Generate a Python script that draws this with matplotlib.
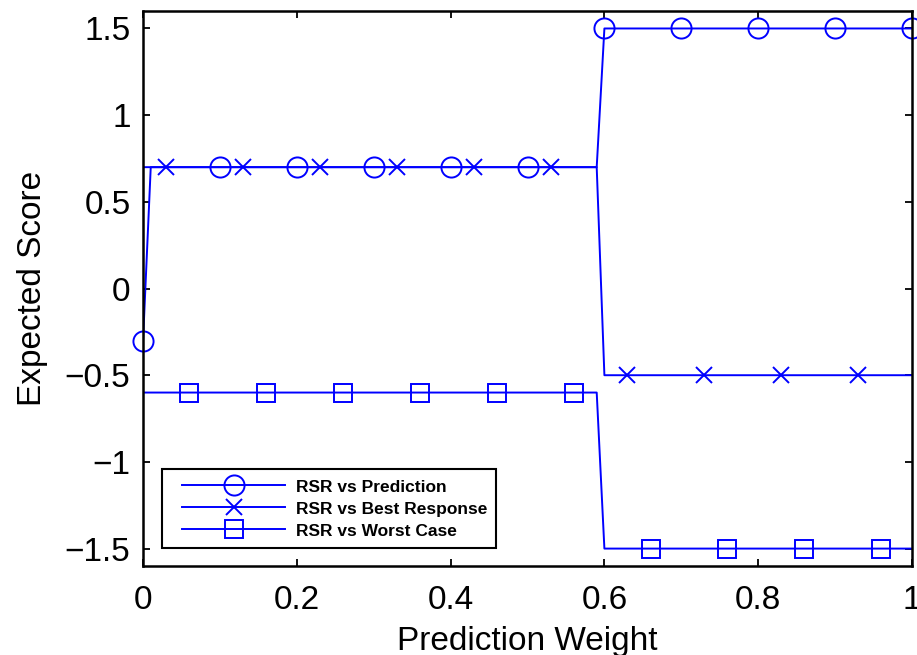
import matplotlib
matplotlib.use('Agg')
import matplotlib.pyplot as plt
from matplotlib.lines import Line2D
from matplotlib.legend_handler import HandlerLine2D

# Data
# line breakpoints (the change happens between 0.59 and 0.60)
pred_x = [0.0, 0.01, 0.59, 0.60, 1.0]
pred_y = [-0.3, 0.7, 0.7, 1.5, 1.5]
best_x = [0.0, 0.59, 0.60, 1.0]
best_y = [0.7, 0.7, -0.5, -0.5]
worst_x = [0.0, 0.59, 0.60, 1.0]
worst_y = [-0.6, -0.6, -1.5, -1.5]

# marker positions
pred_mx = [0.0, 0.1, 0.2, 0.3, 0.4, 0.5, 0.6, 0.7, 0.8, 0.9, 1.0]
pred_my = [-0.3, 0.7, 0.7, 0.7, 0.7, 0.7, 1.5, 1.5, 1.5, 1.5, 1.5]
best_mx = [0.03, 0.13, 0.23, 0.33, 0.43, 0.53, 0.63, 0.73, 0.83, 0.93]
best_my = [0.7, 0.7, 0.7, 0.7, 0.7, 0.7, -0.5, -0.5, -0.5, -0.5]
worst_mx = [0.06, 0.16, 0.26, 0.36, 0.46, 0.56, 0.66, 0.76, 0.86, 0.96]
worst_my = [-0.6, -0.6, -0.6, -0.6, -0.6, -0.6, -1.5, -1.5, -1.5, -1.5]

labels = ['RSR vs Prediction', 'RSR vs Best Response', 'RSR vs Worst Case']
xticks = [0, 0.2, 0.4, 0.6, 0.8, 1]
xticklabels = ['0', '0.2', '0.4', '0.6', '0.8', '1']
yticks = [-1.5, -1, -0.5, 0, 0.5, 1, 1.5]
yticklabels = ['\u22121.5', '\u22121', '\u22120.5', '0', '0.5', '1', '1.5']


# legend handler that leaves some room before the handle line (MATLAB look)
class PadHandler(HandlerLine2D):
    def get_xdata(self, legend, xdescent, ydescent, width, height, fontsize):
        pad = 8.0
        x0 = -xdescent + pad
        x1 = -xdescent + width
        return [x0, x1], [0.5 * (x0 + x1)]


plt.rcParams['font.family'] = ['Liberation Sans', 'DejaVu Sans']
blue = (0, 0, 1)

fig = plt.figure(figsize=(9.17, 6.55), dpi=100)
ax = fig.add_axes([0.156, 0.136, 0.8385, 0.847])

series = [(pred_x, pred_y, pred_mx, pred_my, 'o', 14.5, False),
          (best_x, best_y, best_mx, best_my, 'x', 11, True),
          (worst_x, worst_y, worst_mx, worst_my, 's', 12.5, True)]
handles = []
for lx, ly, mx, my, mk, ms, clip in series:
    ax.plot(lx, ly, color=blue, linewidth=1.4)
    ax.plot(mx, my, linestyle='none', marker=mk, markersize=ms,
            markerfacecolor='none', markeredgecolor=blue,
            markeredgewidth=1.4, clip_on=clip)
    handles.append(Line2D([], [], color=blue, linewidth=1.4, marker=mk,
                          markersize=ms, markerfacecolor='none',
                          markeredgecolor=blue, markeredgewidth=1.4))

ax.set_xlim(0, 1)
ax.set_ylim(-1.6, 1.6)
ax.set_xticks(xticks)
ax.set_xticklabels(xticklabels)
ax.set_yticks(yticks)
ax.set_yticklabels(yticklabels)
ax.tick_params(direction='in', length=5, width=1.3, top=True, right=True,
               labelsize=24)
ax.tick_params(axis='x', pad=14)
ax.tick_params(axis='y', pad=9)
for s in ax.spines.values():
    s.set_linewidth(1.8)

ax.set_xlabel('Prediction Weight', fontsize=24, labelpad=7)
ax.set_ylabel('Expected Score', fontsize=24, labelpad=12)

leg = ax.legend(handles, labels, loc='lower left',
                bbox_to_anchor=(0.0247, 0.0324), borderaxespad=0,
                prop={'weight': 'bold', 'size': 12.5}, handlelength=6.6,
                fancybox=False, framealpha=1, edgecolor='black',
                labelspacing=0.32, handletextpad=0.63, borderpad=0.5,
                handleheight=1.0,
                handler_map={h: PadHandler() for h in handles})
leg.get_frame().set_linewidth(1.5)

fig.savefig('out.png', dpi=100)
